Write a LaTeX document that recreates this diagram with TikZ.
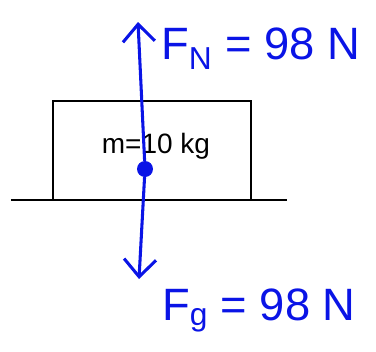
\documentclass[tikz,border=0pt]{standalone}
\usepackage{fontspec}
\setmainfont{Liberation Sans}
\definecolor{penblue}{HTML}{0A14E6}
\usetikzlibrary{arrows.meta}
\tikzset{
	blocknode/.style={
			draw=black,
			line width=1.6pt,
			minimum width=149pt,
			minimum height=74.5pt,
			inner sep=0pt
		},
	groundline/.style={
			draw=black,
			line width=1.6pt
		},
	masslabel/.style={
			inner sep=0pt,
			font=\fontsize{21}{24}\selectfont
		},
	dotnode/.style={
			circle,
			fill=penblue,
			minimum size=12pt,
			inner sep=0pt
		},
	forceline/.style={
			draw=penblue,
			line width=2.3pt,
			line cap=round,
			-{Straight Barb[length=13pt,width=24pt,line width=2.3pt]}
		},
	forcelabel/.style={
			text=penblue,
			inner sep=0pt,
			anchor=base west,
			font=\fontsize{34}{40}\selectfont
		}
}

\begin{document}
\begin{tikzpicture}[x=0.75pt, y=-0.75pt]
\useasboundingbox (0,0) rectangle (376,351);
    \node[blocknode] (block) at (152,150.5)  {};
    \coordinate (gl) at (11,200);
    \coordinate (gr) at (287,200);
    \node[masslabel] (mass) at (156,146)  {m=10 kg};
    \node[dotnode] (cm) at (145,169)  {};
    \coordinate (fntip) at (138,22);
    \coordinate (fgtip) at (139,279);
    \node[forcelabel] (fnlabel) at (161,59)  {F\textsubscript{N} = 98 N};
    \node[forcelabel] (fglabel) at (162,320)  {F\textsubscript{g} = 98 N};

    \draw[groundline] (gl) -- (gr);
    \draw[forceline] (cm) -- (fntip);
    \draw[forceline] (cm) -- (fgtip);

\end{tikzpicture}
\end{document}
